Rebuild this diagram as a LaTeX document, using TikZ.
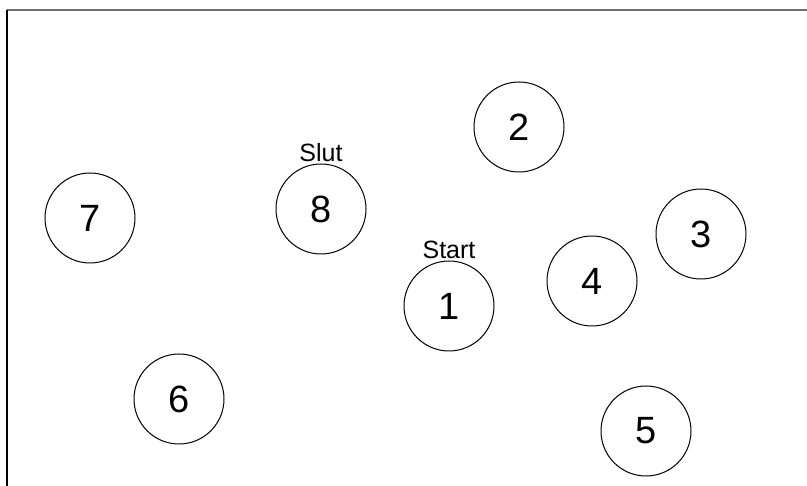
\documentclass[tikz,border=0pt]{standalone}
\usepackage{fontspec}
\setmainfont{Liberation Sans}
\definecolor{framegray}{RGB}{110,110,110}
\usetikzlibrary{positioning}

\begin{document}
\begin{tikzpicture}[
  x=1pt,y=-1pt,
  every node/.style={font=\fontsize{38}{42}\selectfont},
  cityc/.style={draw,circle,line width=1pt,minimum size=90pt,inner sep=0pt},
  tag/.style={font=\fontsize{25}{28}\selectfont,inner sep=1pt},
]
  \useasboundingbox (0,0) rectangle (807,486);

  % frame
  \draw[framegray,line width=1.5pt] (7,10) -- (807,10);
  \draw[black,line width=2pt] (7,10) -- (7,486);

  % cities
  \node[cityc] (n1) at (449,306) {1};
  \node[cityc] (n2) at (519,127) {2};
  \node[cityc] (n3) at (701,234) {3};
  \node[cityc] (n4) at (592,281) {4};
  \node[cityc] (n5) at (646,431) {5};
  \node[cityc] (n6) at (179,399) {6};
  \node[cityc] (n7) at (90,218) {7};
  \node[cityc] (n8) at (321,209) {8};

  % start and end tags
  \node[tag,above=1pt of n1] (start) {Start};
  \node[tag,above=1pt of n8] (slut) {Slut};
\end{tikzpicture}
\end{document}
